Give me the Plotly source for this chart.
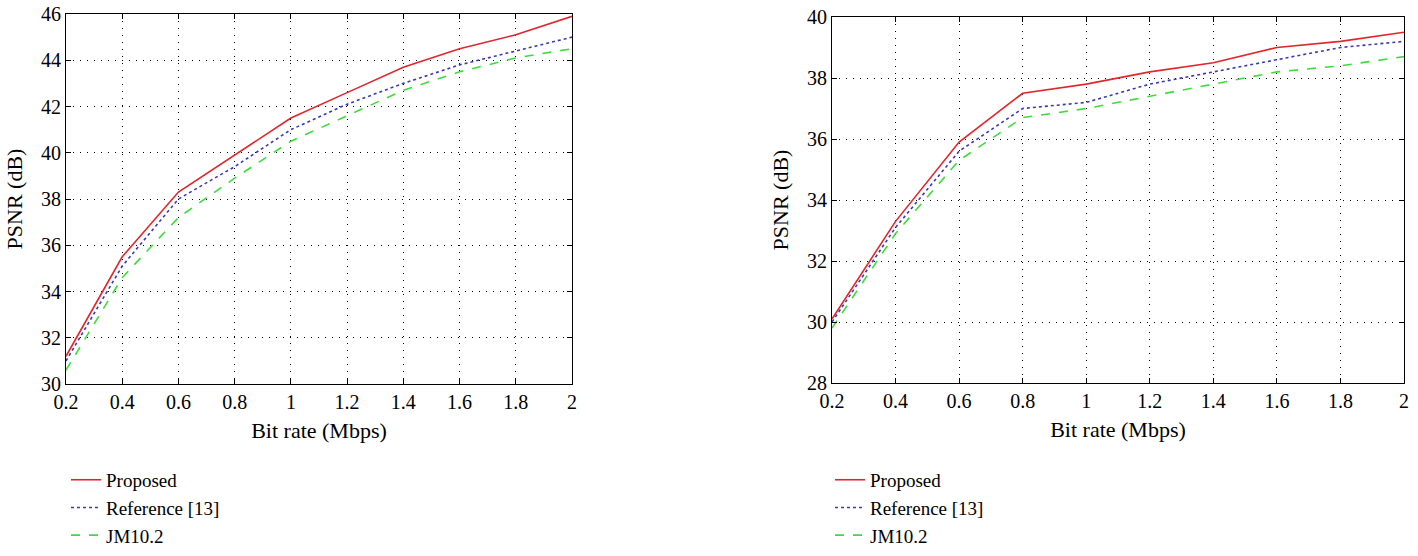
import plotly.graph_objects as go

# bit rates (Mbps)
bit_rate = [0.2, 0.4, 0.6, 0.8, 1.0, 1.2, 1.4, 1.6, 1.8, 2.0]

# left sequence PSNR (dB)
left_proposed = [31.2, 35.5, 38.3, 39.9, 41.5, 42.6, 43.7, 44.5, 45.1, 45.9]
left_ref13 = [31.0, 35.1, 38.0, 39.4, 41.0, 42.1, 43.0, 43.8, 44.4, 45.0]
left_jm = [30.6, 34.6, 37.2, 38.9, 40.5, 41.6, 42.7, 43.5, 44.1, 44.5]

# right sequence PSNR (dB)
right_proposed = [30.1, 33.3, 35.9, 37.5, 37.8, 38.2, 38.5, 39.0, 39.2, 39.5]
right_ref13 = [30.0, 33.1, 35.6, 37.0, 37.2, 37.8, 38.2, 38.6, 39.0, 39.2]
right_jm = [29.8, 32.9, 35.3, 36.7, 37.0, 37.4, 37.8, 38.2, 38.4, 38.7]

x_ticks = [0.2, 0.4, 0.6, 0.8, 1, 1.2, 1.4, 1.6, 1.8, 2]
x_tick_text = ["0.2", "0.4", "0.6", "0.8", "1", "1.2", "1.4", "1.6", "1.8", "2"]
left_y_ticks = [30, 32, 34, 36, 38, 40, 42, 44, 46]
right_y_ticks = [28, 30, 32, 34, 36, 38, 40]

names = ["Proposed", "Reference [13]", "JM10.2"]
colors = ["#e3262d", "#3a3ab8", "#3ddc3d"]
dashes = ["solid", "dot", "dash"]

FONT = "Liberation Serif"
FS = 20
W, H = 1418, 556

fig = go.Figure()

#add the three curves to each panel
panels = [("x", "y", "legend", [left_proposed, left_ref13, left_jm]),
          ("x2", "y2", "legend2", [right_proposed, right_ref13, right_jm])]
for xa, ya, leg, series in panels:
    for name, vals, c, d in zip(names, series, colors, dashes):
        fig.add_trace(go.Scatter(x=bit_rate, y=vals, mode="lines", name=name,
                                 xaxis=xa, yaxis=ya, legend=leg,
                                 line=dict(color=c, width=1.6, dash=d)))

axis_style = dict(showline=True, linecolor="black", linewidth=1.2, mirror="ticks",
                  ticks="inside", ticklen=5, tickcolor="black", automargin=False,
                  showgrid=True, gridcolor="black", gridwidth=1, griddash="1px,6px",
                  zeroline=False, tickfont=dict(family=FONT, size=FS, color="black"))
title_font = dict(family=FONT, size=22, color="black")
legend_font = dict(family=FONT, size=19, color="black")

fig.update_layout(
    width=W, height=H,
    margin=dict(l=0, r=0, t=0, b=0),
    paper_bgcolor="white", plot_bgcolor="white",
    font=dict(family=FONT, size=FS, color="black"),
    xaxis=dict(domain=[66 / W, 572 / W], anchor="y", range=[0.2, 2],
               tickvals=x_ticks, ticktext=x_tick_text,
               title=dict(text="Bit rate (Mbps)", standoff=10, font=title_font),
               **axis_style),
    yaxis=dict(domain=[1 - 384 / H, 1 - 14 / H], anchor="x", range=[30, 46],
               tickvals=left_y_ticks,
               title=dict(text="PSNR (dB)", standoff=12, font=title_font),
               **axis_style),
    xaxis2=dict(domain=[832 / W, 1404 / W], anchor="y2", range=[0.2, 2],
                tickvals=x_ticks, ticktext=x_tick_text,
                title=dict(text="Bit rate (Mbps)", standoff=10, font=title_font),
                **axis_style),
    yaxis2=dict(domain=[1 - 383 / H, 1 - 17 / H], anchor="x2", range=[28, 40],
                tickvals=right_y_ticks,
                title=dict(text="PSNR (dB)", standoff=12, font=title_font),
                **axis_style),
    # legends kept inside the page so they don't push the margins
    legend=dict(x=66 / W, y=0.002, xanchor="left", yanchor="bottom",
                bgcolor="rgba(0,0,0,0)", font=legend_font,
                tracegroupgap=0, itemwidth=30),
    legend2=dict(x=830 / W, y=0.002, xanchor="left", yanchor="bottom",
                 bgcolor="rgba(0,0,0,0)", font=legend_font,
                 tracegroupgap=0, itemwidth=30),
    showlegend=True,
)

# pin the page to exactly the figure size
page_css = ("document.documentElement.style.margin='0';"
            "document.body.style.margin='0';"
            "document.body.style.height='556px';"
            "document.body.style.overflow='hidden';"
            "document.documentElement.style.overflow='hidden';")
fig.write_html("out.html", post_script=page_css, config={"displayModeBar": False})
